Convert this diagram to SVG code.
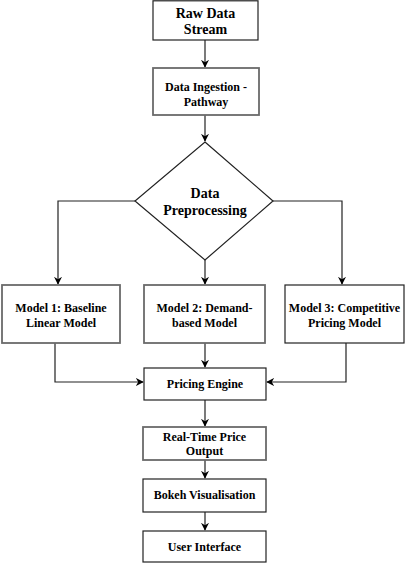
<svg xmlns="http://www.w3.org/2000/svg" width="405" height="563" viewBox="0 0 405 563">
<style>
.box{fill:#fff;stroke:#222;stroke-width:1.2}
.gbox{fill:#fff;stroke:#6a6a6a;stroke-width:1.8}
text{font-weight:bold;font-size:12px;fill:#000;text-anchor:middle}
.t14{font-size:14px}
.c{fill:none;stroke:#222;stroke-width:1.2}
</style>
<defs>
<marker id="ah" viewBox="0 0 10 10" refX="9" refY="5" markerWidth="8" markerHeight="8" markerUnits="userSpaceOnUse" orient="auto">
<path d="M0,0 L10,5 L0,10 L3,5 Z" fill="#000"/>
</marker>
</defs>
<g id="connectors">
<path class="c" d="M205,40 V67" marker-end="url(#ah)"/>
<path class="c" d="M205,115 V141" marker-end="url(#ah)"/>
<path class="c" d="M135,201 H58 V284" marker-end="url(#ah)"/>
<path class="c" d="M205,260 V284" marker-end="url(#ah)"/>
<path class="c" d="M273,201 H342 V284" marker-end="url(#ah)"/>
<path class="c" d="M205,343 V367" marker-end="url(#ah)"/>
<path class="c" d="M55,343 V382 H143" marker-end="url(#ah)"/>
<path class="c" d="M346,343 V382 H267" marker-end="url(#ah)"/>
<path class="c" d="M205,400 V426" marker-end="url(#ah)"/>
<path class="c" d="M205,460 V478" marker-end="url(#ah)"/>
<path class="c" d="M205,512 V530" marker-end="url(#ah)"/>
</g>
<g font-family="Liberation Serif, Times New Roman, DejaVu Serif, serif">
<g id="raw">
<rect class="box" x="153" y="0.8" width="105" height="39.2"/>
<text class="t14" x="205.5" y="18">Raw Data</text>
<text class="t14" x="205.5" y="34">Stream</text>
</g>
<g id="ingest">
<rect class="gbox" x="153" y="68" width="106" height="47"/>
<text x="206" y="91">Data Ingestion -</text>
<text x="206" y="106">Pathway</text>
</g>
<g id="preprocess">
<polygon class="box" points="205,142 273,201 205,260 135,201"/>
<text class="t14" x="205" y="198">Data</text>
<text class="t14" x="205" y="215">Preprocessing</text>
</g>
<g id="model1">
<rect class="gbox" x="2" y="285" width="118" height="58"/>
<text x="61" y="312">Model 1: Baseline</text>
<text x="61" y="327">Linear Model</text>
</g>
<g id="model2">
<rect class="gbox" x="144" y="285" width="121" height="58"/>
<text x="204.5" y="312">Model 2: Demand-</text>
<text x="204.5" y="327">based Model</text>
</g>
<g id="model3">
<rect class="box" x="285" y="285" width="119" height="58"/>
<text x="344.5" y="312">Model 3: Competitive</text>
<text x="344.5" y="327">Pricing Model</text>
</g>
<g id="engine">
<rect class="box" x="144" y="368" width="122" height="32"/>
<text x="205" y="388">Pricing Engine</text>
</g>
<g id="realtime">
<rect class="gbox" x="143" y="427" width="123" height="33"/>
<text x="204.5" y="441">Real-Time Price</text>
<text x="204.5" y="455">Output</text>
</g>
<g id="bokeh">
<rect class="box" x="143" y="479" width="123" height="33"/>
<text x="204.5" y="499">Bokeh Visualisation</text>
</g>
<g id="ui">
<rect class="box" x="143" y="531" width="123" height="31"/>
<text x="204.5" y="551">User Interface</text>
</g>
</g>
</svg>
